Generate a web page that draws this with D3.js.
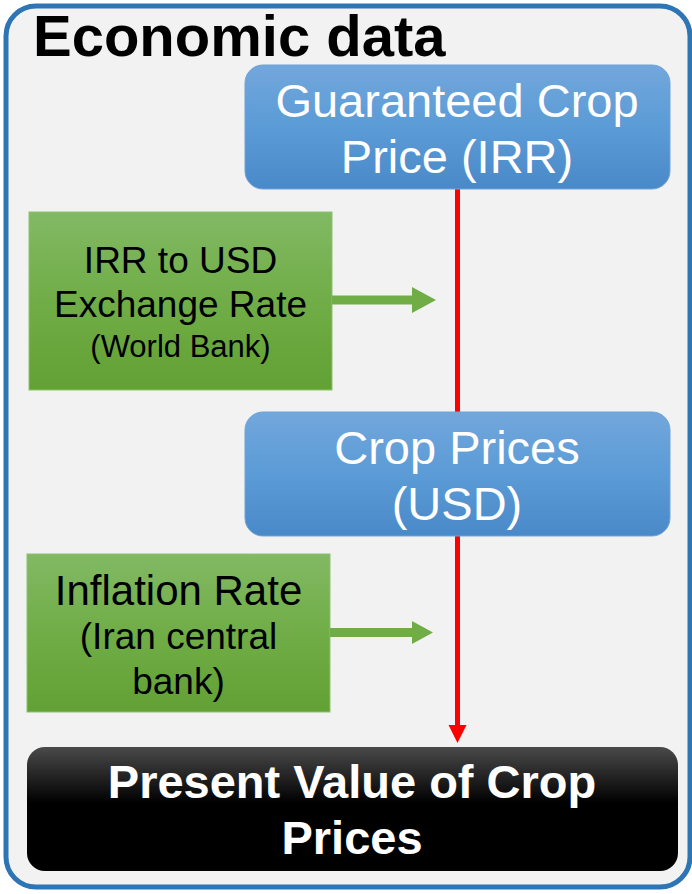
<!DOCTYPE html>
<html>
<head>
<meta charset="utf-8">
<script src="https://cdn.jsdelivr.net/npm/d3@7"></script>
<style>
  html, body { margin: 0; padding: 0; background: #ffffff; }
  svg { display: block; }
  text { font-family: "Liberation Sans", Arial, sans-serif; }
</style>
</head>
<body>
<svg class="chart"></svg>
<script>
var width = 692, height = 894;

// chart content
var title = "Economic data";
var stepLabels = [
  ["Guaranteed Crop", "Price (IRR)"],
  ["Crop Prices", "(USD)"],
  ["Present Value of Crop", "Prices"]
];
var sourceLabels = [
  ["IRR to USD", "Exchange Rate", "(World Bank)"],
  ["Inflation Rate", "(Iran central", "bank)"]
];
// which step each source feeds into (arrow sits on the link before that step)
var sourceTargets = [1, 2];

var chart = d3.select(".chart")
  .attr("width", width)
  .attr("height", height);

var defs = chart.append("defs");

function gradient(id, stops) {
  var g = defs.append("linearGradient")
    .attr("id", id)
    .attr("x1", 0).attr("y1", 0).attr("x2", 0).attr("y2", 1);
  stops.forEach(function(s) {
    g.append("stop").attr("offset", s[0]).attr("stop-color", s[1]);
  });
}
gradient("blueGrad", [[0, "#72a7dc"], [0.5, "#5b9bd6"], [1, "#4a89c8"]]);
gradient("greenGrad", [[0, "#82b964"], [0.5, "#70ad47"], [1, "#62a134"]]);
gradient("blackGrad", [[0, "#4a4a4a"], [0.45, "#000000"], [1, "#000000"]]);

// layout
var mainX = 245, mainW = 425, mainH = 124;
var stepY = d3.scaleOrdinal().domain([0, 1, 2]).range([65, 412, 747]);
var srcY = d3.scaleOrdinal().domain([0, 1]).range([212, 554]);
var srcX = d3.scaleOrdinal().domain([0, 1]).range([29, 27]);
var srcW = d3.scaleOrdinal().domain([0, 1]).range([303, 303]);
var srcH = d3.scaleOrdinal().domain([0, 1]).range([178, 158]);
var lineX = 457.5;

// outer frame
chart.append("rect")
  .attr("x", 6).attr("y", 6)
  .attr("width", 684).attr("height", 881)
  .attr("rx", 30).attr("ry", 30)
  .attr("fill", "#f2f2f2")
  .attr("stroke", "#2e75b6")
  .attr("stroke-width", 5);

chart.append("text")
  .attr("x", 33).attr("y", 56)
  .attr("font-size", 58)
  .attr("font-weight", "bold")
  .attr("fill", "#000")
  .text(title);

// red connector line and arrow
chart.append("line")
  .attr("x1", lineX).attr("x2", lineX)
  .attr("y1", stepY(0) + mainH)
  .attr("y2", stepY(2) - 20)
  .attr("stroke", "#ff0000")
  .attr("stroke-width", 5);
chart.append("path")
  .attr("d", "M" + (lineX - 9) + "," + (stepY(2) - 22) +
    "L" + (lineX + 9) + "," + (stepY(2) - 22) +
    "L" + lineX + "," + (stepY(2) - 4) + "Z")
  .attr("fill", "#ff0000");

// main steps
var steps = chart.selectAll("g.step")
  .data(stepLabels)
  .enter().append("g")
  .attr("class", "step")
  .attr("transform", function(d, i) {
    return "translate(" + (i == 2 ? 27 : mainX) + "," + stepY(i) + ")";
  });

steps.append("rect")
  .attr("width", function(d, i) { return i == 2 ? 651 : mainW; })
  .attr("height", mainH)
  .attr("rx", 18).attr("ry", 18)
  .attr("fill", function(d, i) { return i == 2 ? "url(#blackGrad)" : "url(#blueGrad)"; })
  .attr("stroke", function(d, i) { return i == 2 ? "none" : "#6fa3d8"; })
  .attr("stroke-width", 1);

steps.each(function(d, i) {
  var g = d3.select(this);
  var cx = (i == 2 ? 651 : mainW) / 2 - 0.5;
  var base = i == 2 ? 51 : 52;
  g.selectAll("text")
    .data(d)
    .enter().append("text")
    .attr("x", cx)
    .attr("y", function(t, j) { return base + j * 56; })
    .attr("text-anchor", "middle")
    .attr("font-size", 47)
    .attr("font-weight", i == 2 ? "bold" : "normal")
    .attr("fill", "#ffffff")
    .text(function(t) { return t; });
});

// source boxes
var sources = chart.selectAll("g.source")
  .data(sourceLabels)
  .enter().append("g")
  .attr("class", "source")
  .attr("transform", function(d, i) {
    return "translate(" + srcX(i) + "," + srcY(i) + ")";
  });

sources.append("rect")
  .attr("width", function(d, i) { return srcW(i); })
  .attr("height", function(d, i) { return srcH(i); })
  .attr("fill", "url(#greenGrad)")
  .attr("stroke", "#8cc26d")
  .attr("stroke-width", 1);

var srcFont = [[37, 37, 31], [42, 37, 37]];
var srcBase = [[61, 105, 145], [51, 95, 140]];
sources.each(function(d, i) {
  d3.select(this).selectAll("text")
    .data(d)
    .enter().append("text")
    .attr("x", srcW(i) / 2)
    .attr("y", function(t, j) { return srcBase[i][j]; })
    .attr("text-anchor", "middle")
    .attr("font-size", function(t, j) { return srcFont[i][j]; })
    .attr("fill", "#000000")
    .text(function(t) { return t; });
});

// green arrows from sources to red line
var arrowY = [300, 632.5];
var arrowHead = [[412, 436, 13], [412, 433, 11.5]];
sourceTargets.forEach(function(t, i) {
  var x0 = srcX(i) + srcW(i), y = arrowY[i], h = arrowHead[i];
  chart.append("path")
    .attr("d", "M" + x0 + "," + (y - 4.5) +
      "L" + h[0] + "," + (y - 4.5) +
      "L" + h[0] + "," + (y - h[2]) +
      "L" + h[1] + "," + y +
      "L" + h[0] + "," + (y + h[2]) +
      "L" + h[0] + "," + (y + 4.5) +
      "L" + x0 + "," + (y + 4.5) + "Z")
    .attr("fill", "#70ad47");
});
</script>
</body>
</html>
